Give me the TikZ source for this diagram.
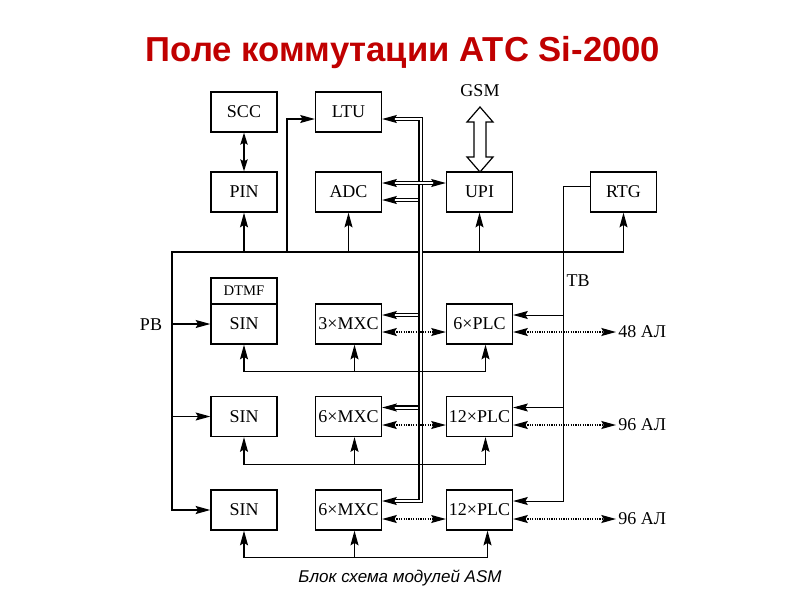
\documentclass[tikz,border=0pt]{standalone}
\usepackage{fontspec}
\setmainfont{Liberation Serif}
\newfontfamily\headfont{Liberation Sans}
\usetikzlibrary{calc,arrows.meta}
\definecolor{headred}{RGB}{192,0,0}
\tikzset{
	>={Stealth[length=11pt,width=6pt,inset=1.8pt]},
	blk/.style={draw, line width=1pt, minimum width=49.5pt, minimum height=30pt, inner sep=0pt, font=\fontsize{13.5}{15}\selectfont},
	txt/.style={inner sep=1.5pt, font=\fontsize{13.5}{15}\selectfont},
	arr/.style={line width=0.9pt, ->},
	bus/.style={line width=1.4pt},
	dbl/.style={double, double distance=1.5pt, line width=0.9pt},
	dotarr/.style={line width=0.9pt, dash pattern=on 0.9pt off 0.9pt, <->}
}

\begin{document}
\begin{tikzpicture}[x=0.75pt, y=-0.75pt]
		%%%%% START %%%%%
		
		\useasboundingbox (0,0) rectangle (800,600);
		
		\node[font=\headfont\bfseries\fontsize{26}{30}\selectfont, text=headred] (title) at (403,53) {Поле коммутации АТС Si-2000};
		
		\node[blk] (scc) at (244,112) {SCC};
		\node[blk] (ltu) at (348.5,112) {LTU};
		\node[txt] (gsm) at (480,91) {GSM};
		
		\node[blk] (pin) at (244,192) {PIN};
		\node[blk] (adc) at (348.5,192) {ADC};
		\node[blk] (upi) at (479.5,192) {UPI};
		\node[blk] (rtg) at (623.5,192) {RTG};
		
		\node[blk, minimum height=19.5pt, font=\fontsize{11}{12}\selectfont] (dtmf) at (244,291) {DTMF};
		\node[blk] (sinA) at (244,324) {SIN};
		\node[blk] (mxcA) at (348.5,324) {3×MXC};
		\node[blk] (plcA) at (479.5,324) {6×PLC};
		\node[txt, anchor=west] (alA) at (616,332) {48 АЛ};
		
		\node[blk] (sinB) at (244,416.5) {SIN};
		\node[blk] (mxcB) at (348.5,416.5) {6×MXC};
		\node[blk] (plcB) at (479.5,416.5) {12×PLC};
		\node[txt, anchor=west] (alB) at (616,425) {96 АЛ};
		
		\node[blk] (sinC) at (244,510) {SIN};
		\node[blk] (mxcC) at (348.5,510) {6×MXC};
		\node[blk] (plcC) at (479.5,510) {12×PLC};
		\node[txt, anchor=west] (alC) at (616,519) {96 АЛ};
		
		\node[txt] (pb) at (151,325) {PB};
		\node[txt] (tb) at (578,281) {TB};
		
		\node[font=\headfont\itshape\fontsize{12.75}{15}\selectfont] (caption) at (400,578) {Блок схема модулей ASM};
		
		% GSM
		\draw[line width=0.9pt, fill=white] (480,107) -- (493,122) -- (486,122) -- (486,157) -- (493,157) -- (480,172) -- (467,157) -- (474,157) -- (474,122) -- (467,122) -- cycle;
		
		\draw[line width=0.9pt, {Stealth[length=9pt,width=5.5pt,inset=1.5pt]}-{Stealth[length=9pt,width=5.5pt,inset=1.5pt]}] (scc) -- (pin);
		
		% control bus
		\coordinate (busL) at (172,252);
		\coordinate (busR) at (623.5,252);
		\coordinate (ltuF) at (287,252);
		\draw[bus, ->] (busR) -- (busL) |- (sinC.west);
		\draw[arr] (busR) -- (rtg.south);
		\draw[arr] (pin.south |- busL) -- (pin.south);
		\draw[arr] (adc.south |- busL) -- (adc.south);
		\draw[arr] (upi.south |- busL) -- (upi.south);
		\draw[arr] (ltuF) |- ($(ltu.west)+(0,7)$);
		\draw[arr] (sinA.west -| busL) -- (sinA.west);
		\draw[arr] (sinB.west -| busL) -- (sinB.west);
		
		% double bus
		\coordinate (dbT) at (420.5,119);
		\coordinate (dbB) at (420.5,501);
		\coordinate (adcIn) at ($(adc.east)+(0,8)$);
		\coordinate (mxcAin) at ($(mxcA.east)+(0,-9)$);
		\coordinate (mxcBin) at ($(mxcB.east)+(0,-9)$);
		\draw[dbl, ->] (dbT |- adcIn) -- (adcIn);
		\draw[dbl, ->] (dbT |- mxcAin) -- (mxcAin);
		\draw[dbl, ->] (dbT |- mxcBin) -- (mxcBin);
		\draw[dbl, <->] ($(ltu.east)+(0,7)$) -- (dbT) -- (dbB) -- ($(mxcC.east)+(0,-9)$);
		\draw[dbl, <->] ($(adc.east)+(0,-9)$) -- ($(upi.west)+(0,-9)$);
		
		% TB
		\coordinate (tbX) at (563,186);
		\coordinate (plcAtb) at ($(plcA.east)+(0,-9)$);
		\coordinate (plcBtb) at ($(plcB.east)+(0,-9)$);
		\draw[arr, line width=0.7pt] ($(rtg.west)+(0,-6)$) -- (tbX) |- ($(plcC.east)+(0,-9)$);
		\draw[arr, line width=0.7pt] (tbX |- plcAtb) -- (plcAtb);
		\draw[arr, line width=0.7pt] (tbX |- plcBtb) -- (plcBtb);
		
		% dotted links
		\draw[dotarr] ($(mxcA.east)+(0,8)$) -- ($(plcA.west)+(0,8)$);
		\draw[dotarr] ($(plcA.east)+(0,8)$) -- (alA.west);
		\draw[dotarr] ($(mxcB.east)+(0,8.5)$) -- ($(plcB.west)+(0,8.5)$);
		\draw[dotarr] ($(plcB.east)+(0,8.5)$) -- (alB.west);
		\draw[dotarr] ($(mxcC.east)+(0,9)$) -- ($(plcC.west)+(0,9)$);
		\draw[dotarr] ($(plcC.east)+(0,9)$) -- (alC.west);
		
		% row feeds
		\draw[arr] ($(plcA.south)+(6,27)$) -| (sinA.south);
		\draw[arr] ($(plcA.south)+(6,27)$) -- ($(plcA.south)+(6,0)$);
		\draw[arr] ($(mxcA.south)+(6,27)$) -- ($(mxcA.south)+(6,0)$);
		
		\draw[arr] ($(plcB.south)+(6,27)$) -| (sinB.south);
		\draw[arr] ($(plcB.south)+(6,27)$) -- ($(plcB.south)+(6,0)$);
		\draw[arr] ($(mxcB.south)+(6,27)$) -- ($(mxcB.south)+(6,0)$);
		
		\draw[arr] ($(plcC.south)+(8,27)$) -| (sinC.south);
		\draw[arr] ($(plcC.south)+(8,27)$) -- ($(plcC.south)+(8,0)$);
		\draw[arr] ($(mxcC.south)+(6,27)$) -- ($(mxcC.south)+(6,0)$);
		
		%%%%% END %%%%%
	\end{tikzpicture}
\end{document}
